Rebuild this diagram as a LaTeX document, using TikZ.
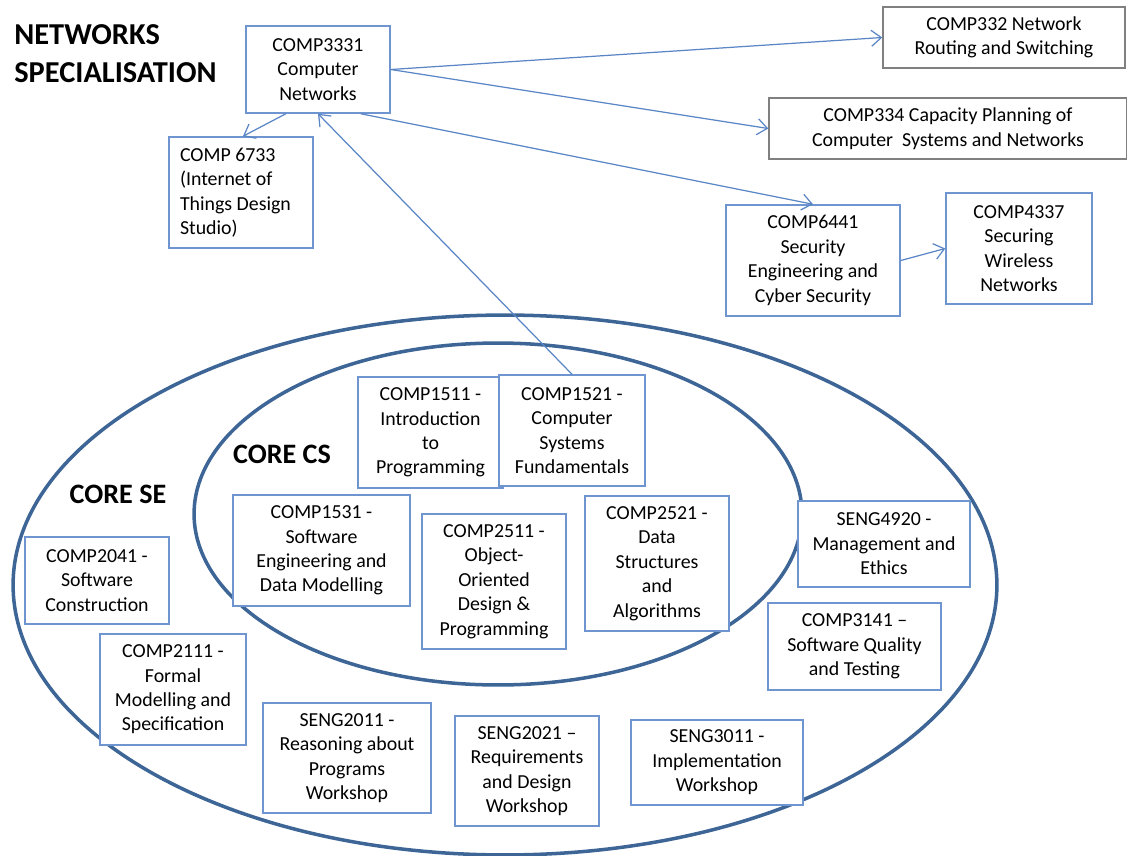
\documentclass[tikz,border=0pt]{standalone}
\usepackage{fontspec}
\setmainfont{Carlito}
\usetikzlibrary{arrows.meta}

\definecolor{boxblue}{HTML}{6E95CF}
\definecolor{boxgray}{HTML}{808080}
\definecolor{ringblue}{HTML}{3D6596}
\definecolor{arrowblue}{HTML}{5A86C6}

\begin{document}
\begin{tikzpicture}[
        x=0.02cm, y=-0.02cm,
        course/.style={draw=boxblue, line width=0.85pt, fill=white, align=center,
            inner sep=0pt, font=\fontsize{11.3}{13.9}\selectfont},
        extcourse/.style={course, draw=boxgray},
        ring/.style={draw=ringblue, line width=2pt},
        heading/.style={inner sep=0pt, font=\bfseries\fontsize{16}{19}\selectfont},
        link/.style={->, draw=arrowblue, line width=0.7pt},
        >={Straight Barb[length=2mm, width=3.2mm]}
    ]
    \useasboundingbox (0,0) rectangle (1127,856);
    % Draw rings
    \draw[ring] (505,585) ellipse [x radius=9.84cm, y radius=5.4cm];
    \draw[ring] (498,514) ellipse [x radius=6.08cm, y radius=3.42cm];
    % Define headings
    \node[anchor=north west, inner sep=0pt, align=left,
        font=\bfseries\fontsize{17.3}{21.5}\selectfont] (title) at (14,24) {NETWORKS\\SPECIALISATION};
    \node[heading] (corecs) at (282,454) {CORE CS};
    \node[heading] (corese) at (118,494) {CORE SE};
    % Define nodes
    \node[course, minimum width=2.88cm, minimum height=1.74cm] (comp3331) at (318,69.5) {COMP3331\\Computer\\Networks};
    \node[course, align=flush left, inner xsep=0.22cm, text width=2.44cm, minimum height=2.22cm] (comp6733) at (241,192.5) {COMP 6733\\(Internet of\\Things Design\\Studio)};
    \node[extcourse, minimum width=4.84cm, minimum height=1.22cm] (comp332) at (1004,37.5) {COMP332 Network\\Routing and Switching};
    \node[extcourse, minimum width=7.16cm, minimum height=1.22cm] (comp334) at (948,128.5) {COMP334 Capacity Planning of\\Computer \ Systems and Networks};
    \node[course, minimum width=3.48cm, minimum height=2.22cm] (comp6441) at (813,260.5) {COMP6441\\Security\\Engineering and\\Cyber Security};
    \node[course, minimum width=2.92cm, minimum height=2.22cm] (comp4337) at (1019,248.5) {COMP4337\\Securing\\Wireless\\Networks};
    \node[course, minimum width=2.9cm, minimum height=2.22cm] (comp1511) at (430.5,432.5) {COMP1511 -\\Introduction\\to\\Programming};
    \node[course, minimum width=2.92cm, minimum height=2.22cm] (comp1521) at (572,430.5) {COMP1521 -\\Computer\\Systems\\Fundamentals};
    \node[course, minimum width=3.54cm, minimum height=2.22cm] (comp1531) at (321.5,550.5) {COMP1531 -\\Software\\Engineering and\\Data Modelling};
    \node[course, minimum width=2.88cm, minimum height=2.7cm] (comp2511) at (494,581.5) {COMP2511 -\\Object-\\Oriented\\Design \&\\Programming};
    \node[course, minimum width=2.88cm, minimum height=2.7cm] (comp2521) at (657,563.5) {COMP2521 -\\Data\\Structures\\and\\Algorithms};
    \node[course, minimum width=2.88cm, minimum height=1.74cm] (comp2041) at (97,580.5) {COMP2041 -\\Software\\Construction};
    \node[course, minimum width=2.92cm, minimum height=2.22cm] (comp2111) at (173,689.5) {COMP2111 -\\Formal\\Modelling and\\Specification};
    \node[course, minimum width=3.36cm, minimum height=2.2cm] (seng2011) at (347,758) {SENG2011 -\\Reasoning about\\Programs\\Workshop};
    \node[course, minimum width=2.88cm, minimum height=2.2cm] (seng2021) at (527,771) {SENG2021 –\\Requirements\\and Design\\Workshop};
    \node[course, minimum width=3.44cm, minimum height=1.7cm] (seng3011) at (717,762.5) {SENG3011 -\\Implementation\\Workshop};
    \node[course, minimum width=3.46cm, minimum height=1.74cm] (comp3141) at (854.5,646.5) {COMP3141 –\\Software Quality\\and Testing};
    \node[course, minimum width=3.44cm, minimum height=1.72cm] (seng4920) at (884,544) {SENG4920 -\\Management and\\Ethics};
    % Draw edges
    \draw[link] (comp3331.234) -- (comp6733.88);
    \draw[link] (comp3331.east) -- (comp332.west);
    \draw[link] (comp3331.east) -- (comp334.west);
    \draw[link] (comp3331.-46) -- (comp6441.north);
    \draw[link] (comp6441.east) -- (comp4337.west);
    \draw[link] (comp1521.north) -- (comp3331.south);
\end{tikzpicture}
\end{document}
